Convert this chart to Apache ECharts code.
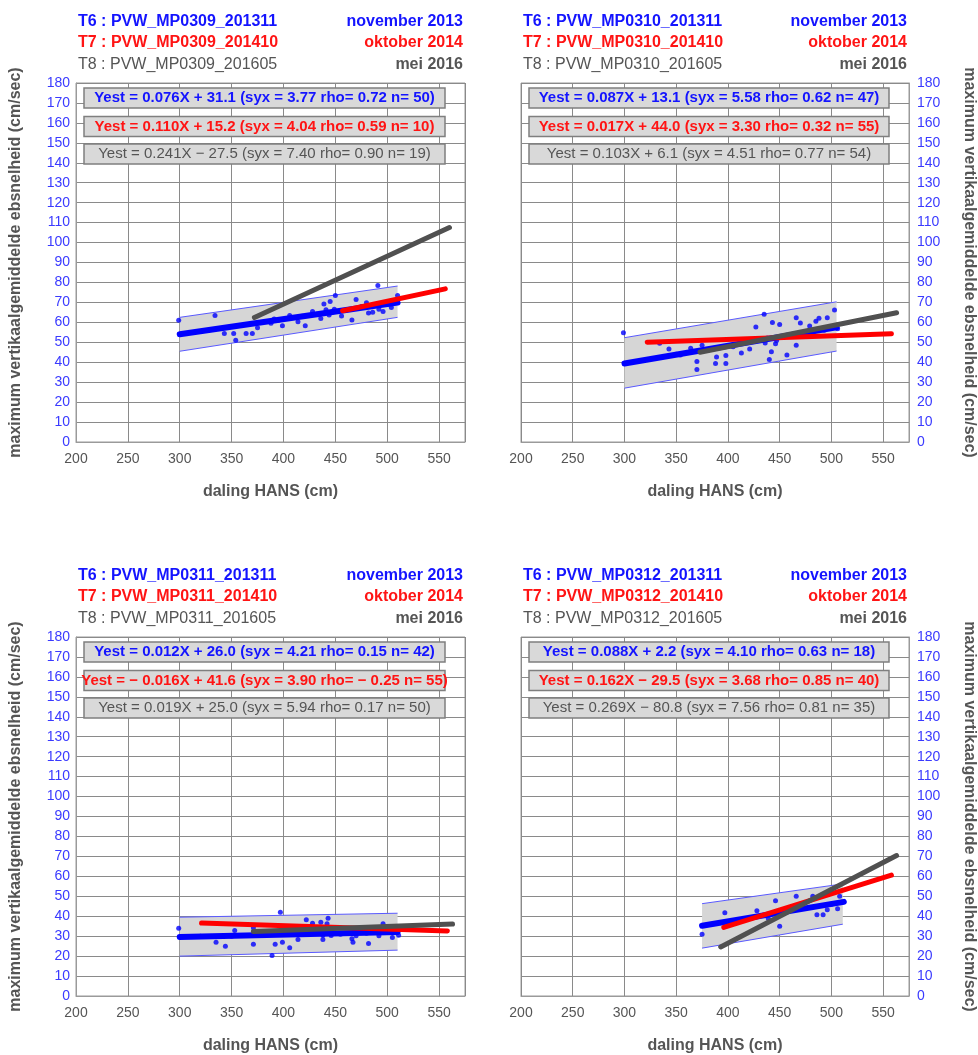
<!DOCTYPE html>
<html><head><meta charset="utf-8">
<script src="https://cdn.jsdelivr.net/npm/echarts@6/dist/echarts.min.js"></script>
<style>html,body{margin:0;padding:0;background:#fff}#c{width:978px;height:1055px}</style>
</head><body><div id="c"></div>
<script>
// ---------- data ----------
const xTicks = [200, 250, 300, 350, 400, 450, 500, 550];
const xMin = 200, xMax = 575, xStep = 50;
const yMin = 0, yMax = 180, yStep = 10;

const headerT6 = ['T6 : PVW_MP0309_201311', 'T6 : PVW_MP0310_201311', 'T6 : PVW_MP0311_201311', 'T6 : PVW_MP0312_201311'];
const headerT7 = ['T7 : PVW_MP0309_201410', 'T7 : PVW_MP0310_201410', 'T7 : PVW_MP0311_201410', 'T7 : PVW_MP0312_201410'];
const headerT8 = ['T8 : PVW_MP0309_201605', 'T8 : PVW_MP0310_201605', 'T8 : PVW_MP0311_201605', 'T8 : PVW_MP0312_201605'];
const dateT6 = 'november 2013', dateT7 = 'oktober 2014', dateT8 = 'mei 2016';

const eqT6 = [
  'Yest = 0.076X + 31.1 (syx = 3.77 rho= 0.72 n= 50)',
  'Yest = 0.087X + 13.1 (syx = 5.58 rho= 0.62 n= 47)',
  'Yest = 0.012X + 26.0 (syx = 4.21 rho= 0.15 n= 42)',
  'Yest = 0.088X + 2.2 (syx = 4.10 rho= 0.63 n= 18)'];
const eqT7 = [
  'Yest = 0.110X + 15.2 (syx = 4.04 rho= 0.59 n= 10)',
  'Yest = 0.017X + 44.0 (syx = 3.30 rho= 0.32 n= 55)',
  'Yest = \u2212 0.016X + 41.6 (syx = 3.90 rho= \u2212 0.25 n= 55)',
  'Yest = 0.162X \u2212 29.5 (syx = 3.68 rho= 0.85 n= 40)'];
const eqT8 = [
  'Yest = 0.241X \u2212 27.5 (syx = 7.40 rho= 0.90 n= 19)',
  'Yest = 0.103X + 6.1 (syx = 4.51 rho= 0.77 n= 54)',
  'Yest = 0.019X + 25.0 (syx = 5.94 rho= 0.17 n= 50)',
  'Yest = 0.269X \u2212 80.8 (syx = 7.56 rho= 0.81 n= 35)'];

// T6 measured points (blue)
const pointsMP0309 = [[299,61],[334,63.4],[343,54.4],[352,54.4],[354,51],[364,54.4],[370,54.4],[375,57.3],[388,59.5],[391,61.7],[395,61],[399,58.3],[406,63.4],[414,60.3],[418,63],[421,58.3],[428,65.4],[432,64],[436,61.9],[439,69.2],[441,66.3],[444,63.7],[445,70.4],[447,65],[449,66.6],[450,73.4],[456,63.2],[460,66],[466,61.2],[470,71.4],[475,68],[480,69.8],[482,64.7],[486,65],[491,78.5],[492,66.6],[496,65.4],[500,69],[504,67.4],[505,71],[508,69.8],[510,73.4]];
const pointsMP0310 = [[299,54.8],[334,49.5],[343,46.6],[350,44],[354,43.6],[364,47],[370,40.3],[370,36.3],[375,48.5],[380,46],[388,39.4],[389,42.6],[398,43.4],[398,39.4],[405,47.7],[413,44.6],[420,50],[421,46.6],[427,57.7],[435,64],[436,49.7],[438,52.1],[440,41.4],[442,45.3],[443,59.9],[446,49.2],[447,50.9],[450,58.9],[457,43.6],[460,53],[466,48.5],[466,62.3],[470,59.7],[479,58.1],[480,55],[485,60.6],[488,62],[493,56],[496,62.3],[503,66.2],[506,56.8]];
const pointsMP0311 = [[299,34],[320,30],[335,27],[344,25],[350,30],[353,32.8],[371,34.2],[371,26],[380,31],[389,20.3],[392,26],[397,42],[399,27],[406,24.2],[414,28.3],[420,31],[422,38.2],[428,36.5],[436,37],[438,28.3],[438,30.5],[442,36.2],[443,39],[446,30.3],[455,31],[466,28.7],[467,27],[470,30.2],[480,31.5],[482,26.3],[492,30.2],[496,36.2],[505,29.3],[511,30.5]];
const pointsMP0312 = [[375,30.9],[397,41.7],[420,39],[428,42.8],[439,38.8],[446,47.8],[450,35],[455,42],[466,50],[470,44],[482,50],[486,40.8],[492,40.8],[496,43.3],[500,46],[506,43.8],[508,50],[510,47]];

// regression line end points
const lineT6 = [[[300,54.0],[510,69.9]], [[300,39.4],[505,57.5]], [[300,29.6],[510,32.1]], [[375,35.2],[512,47.2]]];
const lineT7 = [[[457,65.8],[556,76.8]], [[322,50.0],[558,54.3]], [[321,36.6],[558,32.6]], [[396,34.4],[558,60.6]]];
const lineT8 = [[[372,62.4],[560,107.5]], [[373,45.0],[563,64.8]], [[371,32.3],[563,36.1]], [[393,24.6],[563,70.4]]];
// T6 confidence band: [x, low, high] at both ends
const bandT6 = [[[300,45.5,62.5],[510,62.5,78.2]], [[300,27,52.3],[505,45.6,70.3]], [[300,20,39.5],[510,23,41.5]], [[375,24,46.3],[511,36,56.2]]];

const allPoints = [pointsMP0309, pointsMP0310, pointsMP0311, pointsMP0312];

// ---------- layout / style ----------
const FONT = '"Liberation Sans", Arial, Helvetica, sans-serif';
const BLUE = '#1414ff', RED = '#ff1414', GREY = '#555555';
const grids = [
  {left: 76, top: 83, width: 389, height: 359},
  {left: 521, top: 83, width: 388, height: 359},
  {left: 76, top: 637, width: 389, height: 359},
  {left: 521, top: 637, width: 388, height: 359}
];
const yTitle = 'maximum vertikaalgemiddelde ebsnelheid (cm/sec)';

const option = {
  animation: false,
  backgroundColor: '#fff',
  grid: grids.map(g => Object.assign({show: true, borderColor: '#9a9a9a', borderWidth: 1, backgroundColor: '#fff'}, g)),
  xAxis: grids.map((g, i) => ({
    type: 'value', gridIndex: i, min: xMin, max: xMax, interval: xStep,
    axisLine: {show: true, lineStyle: {color: '#9a9a9a'}},
    axisTick: {show: false},
    axisLabel: {color: '#555', fontSize: 14, fontFamily: FONT, margin: 10, showMaxLabel: false,
      formatter: v => xTicks.includes(v) ? String(v) : ''},
    splitLine: {show: true, lineStyle: {color: '#8a8a8a', width: 1}},
    name: 'daling HANS (cm)', nameLocation: 'middle', nameGap: 42,
    nameTextStyle: {color: '#555', fontSize: 16, fontWeight: 'bold', fontFamily: FONT}
  })),
  yAxis: grids.map((g, i) => {
    const right = (i % 2 === 1);
    return {
      type: 'value', gridIndex: i, min: yMin, max: yMax, interval: yStep,
      position: right ? 'right' : 'left',
      axisLine: {show: true, lineStyle: {color: '#9a9a9a'}},
      axisTick: {show: false},
      axisLabel: {color: '#3a3aff', fontSize: 14, fontFamily: FONT, margin: right ? 8 : 6},
      splitLine: {show: true, lineStyle: {color: '#8a8a8a', width: 1}},
      name: yTitle, nameLocation: 'middle', nameGap: right ? 52 : 52,
      nameRotate: right ? -90 : 90,
      nameTextStyle: {color: '#555', fontSize: 16, fontWeight: 'bold', fontFamily: FONT}
    };
  }),
  series: [],
  graphic: []
};

grids.forEach((g, i) => {
  const band = bandT6[i];
  option.series.push({
    type: 'custom', xAxisIndex: i, yAxisIndex: i, z: 1, silent: true,
    data: band,
    renderItem: function (params, api) {
      if (params.dataIndex !== 0) return;
      const a = band[0], b = band[1];
      const p0 = api.coord([a[0], a[2]]), p1 = api.coord([b[0], b[2]]);
      const p2 = api.coord([b[0], b[1]]), p3 = api.coord([a[0], a[1]]);
      return {type: 'group', children: [
        {type: 'polygon', shape: {points: [p0, p1, p2, p3]}, style: {fill: '#d6d6d6'}},
        {type: 'polyline', shape: {points: [p0, p1]}, style: {stroke: '#5a5aff', lineWidth: 1, fill: null}},
        {type: 'polyline', shape: {points: [p3, p2]}, style: {stroke: '#5a5aff', lineWidth: 1, fill: null}}
      ]};
    }
  });
  option.series.push({
    type: 'scatter', xAxisIndex: i, yAxisIndex: i, z: 3, data: allPoints[i],
    symbol: 'circle', symbolSize: 5, itemStyle: {color: '#0000ff'}
  });
  option.series.push({
    type: 'line', xAxisIndex: i, yAxisIndex: i, z: 4, data: lineT6[i], symbol: 'none',
    lineStyle: {color: '#0000ff', width: 6, cap: 'round'}
  });
  option.series.push({
    type: 'line', xAxisIndex: i, yAxisIndex: i, z: 5, data: lineT7[i], symbol: 'none',
    lineStyle: {color: '#ff0000', width: 5, cap: 'round'}
  });
  option.series.push({
    type: 'line', xAxisIndex: i, yAxisIndex: i, z: 6, data: lineT8[i], symbol: 'none',
    lineStyle: {color: '#505050', width: 5, cap: 'round'}
  });

  const L = g.left, R = g.left + g.width, T = g.top;
  const hdr = [[headerT6[i], dateT6, BLUE, 'bold', 'bold', -61], [headerT7[i], dateT7, RED, 'bold', 'bold', -40], [headerT8[i], dateT8, GREY, 'normal', 'bold', -18]];
  hdr.forEach(h => {
    option.graphic.push({type: 'text', x: L + 2, y: T + h[5], z: 100,
      style: {text: h[0], fill: h[2], fontSize: 16, fontWeight: h[3], fontFamily: FONT, textAlign: 'left', textVerticalAlign: 'middle'}});
    option.graphic.push({type: 'text', x: R - 2, y: T + h[5], z: 100,
      style: {text: h[1], fill: h[2], fontSize: 16, fontWeight: h[4], fontFamily: FONT, textAlign: 'right', textVerticalAlign: 'middle'}});
  });
  const bx = L + 8, bw = g.width - 28;
  const boxes = [[eqT6[i], BLUE, 'bold', 5], [eqT7[i], RED, 'bold', 33.5], [eqT8[i], GREY, 'normal', 61]];
  boxes.forEach(b => {
    option.graphic.push({type: 'rect', z: 100, shape: {x: bx, y: T + b[3], width: bw, height: 20},
      style: {fill: '#d9d9d9', stroke: '#7f7f7f', lineWidth: 1.5}});
    option.graphic.push({type: 'text', z: 101, x: bx + bw / 2, y: T + b[3] + 10,
      style: {text: b[0], fill: b[1], fontSize: 15, fontWeight: b[2], fontFamily: FONT, textAlign: 'center', textVerticalAlign: 'middle'}});
  });
});

const chart = echarts.init(document.getElementById('c'), null, {renderer: 'canvas'});
chart.setOption(option);
</script>
</body></html>
